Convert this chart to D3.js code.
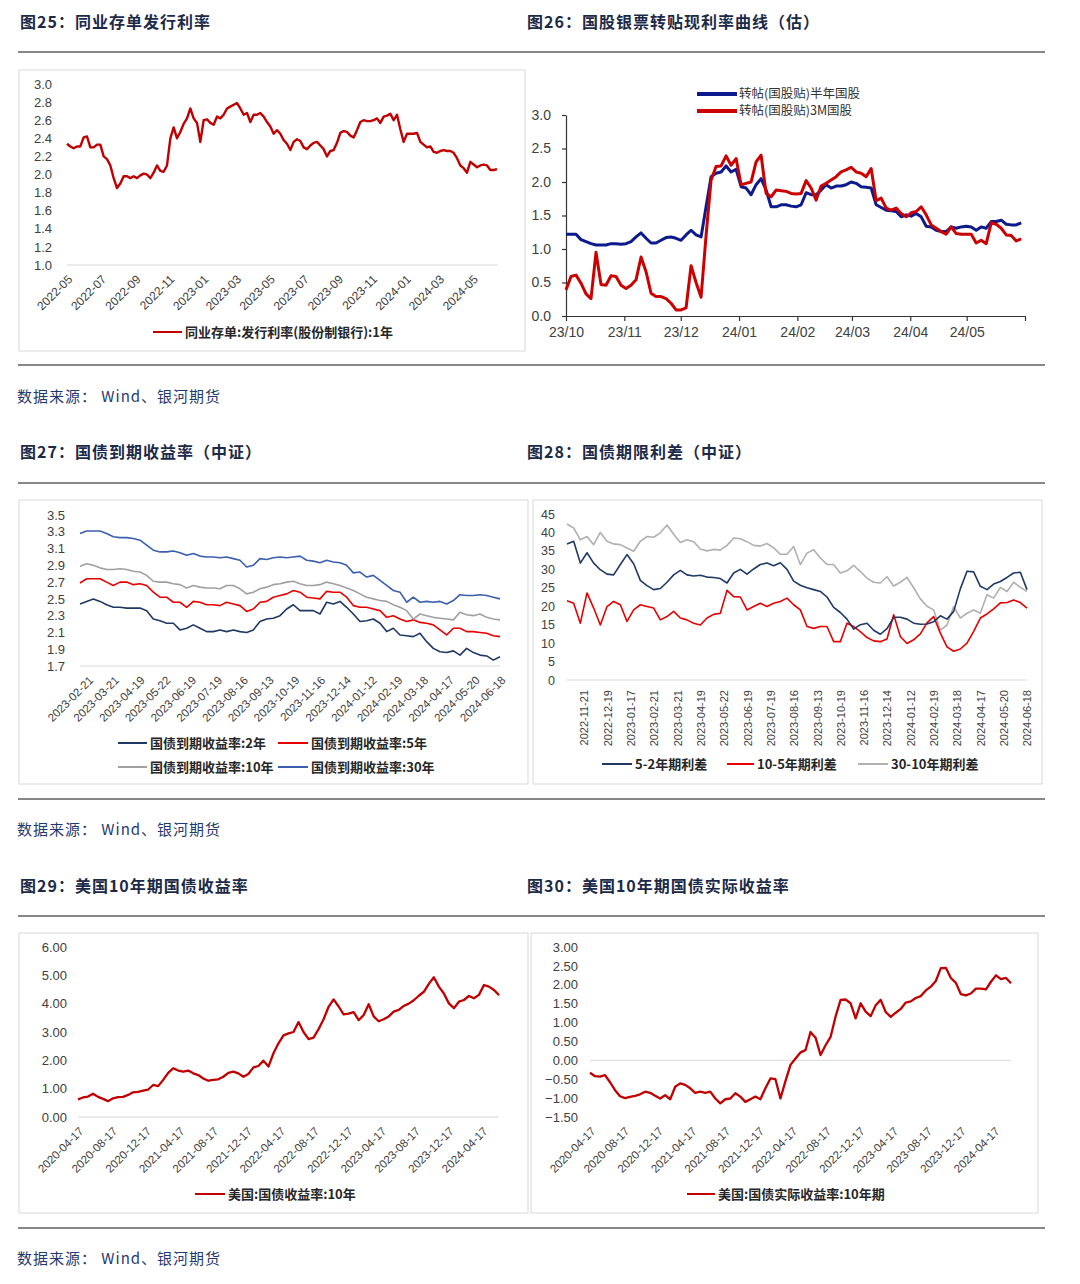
<!DOCTYPE html>
<html>
<head>
<meta charset="utf-8">
<script src="https://cdn.jsdelivr.net/npm/d3@7"></script>
<style>
body { margin: 0; background: #fff; }
text { font-family: "Liberation Sans", Arial, sans-serif; }
.cjk { font-family: "Noto Sans CJK SC", sans-serif; }
</style>
</head>
<body>
<svg id="page" width="1080" height="1284"></svg>
<script>
// ---- page texts ----
var pageTitles = ["图25：同业存单发行利率", "图26：国股银票转贴现利率曲线（估）",
                  "图27：国债到期收益率（中证）", "图28：国债期限利差（中证）",
                  "图29：美国10年期国债收益率", "图30：美国10年期国债实际收益率"];
var sourceText = "数据来源： Wind、银河期货";

// ---- 图25 ----
var c25Span = ["2022-05-05", "2024-06-18"];
var c25Ticks = ["2022-05","2022-07","2022-09","2022-11","2023-01","2023-03","2023-05","2023-07","2023-09","2023-11","2024-01","2024-03","2024-05"];
var c25YTicks = [1.0,1.2,1.4,1.6,1.8,2.0,2.2,2.4,2.6,2.8,3.0];
var c25Names = ["同业存单:发行利率(股份制银行):1年"];
var c25Rate = [2.34,2.31,2.29,2.31,2.31,2.41,2.42,2.30,2.30,2.33,
  2.33,2.20,2.17,2.10,1.96,1.85,1.90,1.98,1.98,1.96,
  1.98,1.96,1.99,2.01,2.00,1.96,2.02,2.10,2.04,2.03,
  2.10,2.40,2.52,2.40,2.47,2.56,2.62,2.73,2.62,2.57,
  2.36,2.60,2.61,2.57,2.55,2.64,2.62,2.66,2.73,2.75,
  2.77,2.79,2.73,2.66,2.68,2.58,2.66,2.66,2.68,2.64,
  2.58,2.53,2.45,2.49,2.45,2.38,2.34,2.27,2.36,2.39,
  2.37,2.30,2.28,2.32,2.35,2.36,2.32,2.28,2.20,2.26,
  2.27,2.35,2.46,2.48,2.47,2.43,2.41,2.49,2.58,2.60,
  2.59,2.59,2.60,2.62,2.57,2.64,2.65,2.67,2.60,2.66,
  2.50,2.36,2.45,2.45,2.45,2.46,2.36,2.33,2.30,2.31,
  2.25,2.24,2.26,2.27,2.26,2.26,2.24,2.18,2.10,2.07,
  2.02,2.14,2.11,2.08,2.10,2.11,2.10,2.05,2.05,2.06];

// ---- 图26 ----
var c26Span = ["2023-10-01", "2024-05-30"];
var c26Ticks = ["23/10","23/11","23/12","24/01","24/02","24/03","24/04","24/05","24/06"];
var c26YTicks = [0,0.5,1.0,1.5,2.0,2.5,3.0];
var c26Names = ["转帖(国股贴)半年国股", "转帖(国股贴)3M国股"];
var c26Half = [1.22,1.22,1.22,1.14,1.11,1.08,1.06,1.06,1.06,1.08,
  1.08,1.07,1.08,1.11,1.18,1.24,1.16,1.09,1.09,1.13,
  1.17,1.18,1.16,1.13,1.21,1.28,1.21,1.18,1.63,2.08,
  2.13,2.15,2.24,2.15,2.19,1.93,1.91,1.81,1.96,2.05,
  1.88,1.63,1.63,1.66,1.66,1.64,1.63,1.66,1.84,1.81,
  1.81,1.88,1.96,1.91,1.94,1.94,1.96,2.00,1.98,1.93,
  1.92,1.91,1.66,1.62,1.58,1.57,1.56,1.48,1.51,1.49,
  1.53,1.48,1.34,1.33,1.28,1.26,1.26,1.33,1.31,1.33,
  1.34,1.33,1.28,1.33,1.31,1.41,1.41,1.43,1.37,1.36,
  1.36,1.39];
var c26ThreeM = [0.39,0.59,0.61,0.49,0.33,0.26,0.95,0.47,0.46,0.60,
  0.59,0.46,0.41,0.46,0.54,0.88,0.66,0.34,0.29,0.29,
  0.26,0.19,0.09,0.09,0.12,0.75,0.50,0.28,1.20,2.03,
  2.23,2.24,2.39,2.25,2.35,1.96,1.98,2.00,2.30,2.40,
  1.83,1.78,1.88,1.87,1.86,1.83,1.82,1.83,2.02,1.91,
  1.73,1.94,1.98,2.03,2.08,2.15,2.18,2.22,2.15,2.13,
  2.08,2.20,1.72,1.76,1.61,1.58,1.61,1.53,1.48,1.54,
  1.56,1.63,1.51,1.36,1.31,1.26,1.22,1.33,1.23,1.22,
  1.22,1.22,1.09,1.13,1.08,1.39,1.37,1.31,1.21,1.20,
  1.12,1.15];

// ---- 图27 ----
var c27Ticks = ["2023-02-21","2023-03-21","2023-04-19","2023-05-22","2023-06-19","2023-07-19","2023-08-16","2023-09-13","2023-10-19","2023-11-16","2023-12-14","2024-01-12","2024-02-19","2024-03-18","2024-04-17","2024-05-20","2024-06-18"];
var c27YTicks = [1.7,1.9,2.1,2.3,2.5,2.7,2.9,3.1,3.3,3.5];
var c27Names = ["国债到期收益率:2年", "国债到期收益率:5年", "国债到期收益率:10年", "国债到期收益率:30年"];
var c27Y2 = [2.44,2.47,2.50,2.47,2.43,2.40,2.40,2.39,2.39,2.39,
  2.36,2.26,2.24,2.21,2.21,2.13,2.15,2.19,2.15,2.11,
  2.11,2.13,2.11,2.13,2.11,2.10,2.13,2.23,2.26,2.27,
  2.30,2.38,2.43,2.36,2.36,2.36,2.32,2.46,2.44,2.47,
  2.40,2.32,2.23,2.24,2.26,2.21,2.11,2.15,2.07,2.06,
  2.05,2.09,1.99,1.91,1.87,1.86,1.88,1.83,1.91,1.86,
  1.83,1.82,1.77,1.81];
var c27Y5 = [2.69,2.74,2.74,2.74,2.70,2.66,2.70,2.70,2.67,2.68,
  2.66,2.58,2.52,2.52,2.46,2.46,2.40,2.47,2.46,2.43,
  2.43,2.42,2.46,2.44,2.42,2.35,2.38,2.46,2.47,2.52,
  2.54,2.56,2.60,2.58,2.52,2.51,2.50,2.59,2.58,2.58,
  2.52,2.42,2.40,2.40,2.38,2.36,2.28,2.30,2.26,2.23,
  2.25,2.22,2.21,2.19,2.13,2.07,2.15,2.15,2.11,2.11,
  2.10,2.09,2.06,2.05];
var c27Y10 = [2.89,2.92,2.90,2.87,2.85,2.85,2.86,2.85,2.83,2.82,
  2.78,2.71,2.70,2.70,2.68,2.67,2.63,2.66,2.64,2.63,
  2.63,2.62,2.66,2.66,2.62,2.56,2.58,2.62,2.64,2.67,
  2.68,2.70,2.71,2.68,2.66,2.66,2.67,2.70,2.68,2.66,
  2.63,2.60,2.56,2.52,2.50,2.48,2.47,2.43,2.40,2.36,
  2.26,2.32,2.30,2.28,2.27,2.26,2.25,2.34,2.31,2.30,
  2.32,2.28,2.26,2.25];
var c27Y30 = [3.28,3.31,3.31,3.31,3.28,3.24,3.23,3.23,3.22,3.20,
  3.14,3.08,3.06,3.06,3.07,3.05,3.02,3.04,3.01,3.00,
  3.00,2.99,3.00,2.98,2.96,2.88,2.90,2.98,2.97,2.99,
  3.00,2.99,3.00,3.01,2.96,2.95,2.93,2.96,2.94,2.93,
  2.90,2.81,2.82,2.76,2.78,2.72,2.66,2.60,2.58,2.46,
  2.52,2.46,2.47,2.46,2.47,2.44,2.48,2.55,2.54,2.54,
  2.55,2.54,2.52,2.50];

// ---- 图28 ----
var c28Ticks = ["2022-11-21","2022-12-19","2023-01-17","2023-02-21","2023-03-21","2023-04-19","2023-05-22","2023-06-19","2023-07-19","2023-08-16","2023-09-13","2023-10-19","2023-11-16","2023-12-14","2024-01-12","2024-02-19","2024-03-18","2024-04-17","2024-05-20","2024-06-18"];
var c28YTicks = [0,5,10,15,20,25,30,35,40,45];
var c28Names = ["5-2年期利差", "10-5年期利差", "30-10年期利差"];
var c28S52 = [36.9,37.6,31.7,34.5,31.7,29.9,28.7,28.5,31.3,34.0,
  31.5,27.0,25.6,24.5,24.8,26.5,28.5,29.7,28.5,28.2,
  28.4,27.9,27.8,27.5,26.3,29.0,30.0,28.7,30.1,31.3,
  31.7,31.0,31.8,30.0,26.8,25.7,25.0,24.5,24.0,22.5,
  19.7,18.3,16.5,13.8,15.0,15.4,13.5,12.4,13.9,17.0,
  17.0,16.5,15.4,15.1,15.2,15.8,17.4,16.5,18.6,24.7,
  29.5,29.3,25.4,24.5,26.0,26.7,27.8,29.0,29.2,24.5];
var c28S105 = [21.5,20.8,15.4,23.6,19.5,14.9,19.9,21.3,20.4,15.9,
  19.0,20.4,19.9,19.5,16.3,17.2,18.6,16.8,16.3,15.4,
  14.9,16.8,17.8,18.1,24.3,22.6,22.5,19.0,19.9,20.8,
  19.9,20.8,21.3,22.2,20.4,19.0,14.5,14.0,14.5,14.5,
  10.4,10.4,15.4,14.5,13.1,11.5,10.6,10.4,11.1,17.7,
  11.8,9.9,10.9,12.5,15.5,17.2,12.7,9.0,7.8,8.4,
  10.0,13.2,16.8,17.9,19.3,20.9,21.0,21.7,21.0,19.5];
var c28S3010 = [42.3,41.2,38.0,38.9,36.7,40.0,37.6,36.9,36.7,35.8,
  34.9,37.6,38.9,38.7,39.9,42.0,39.5,37.3,38.0,37.5,
  35.5,35.0,35.4,35.2,36.5,38.5,38.3,37.5,36.5,36.3,
  37.0,35.8,34.1,34.1,36.2,31.3,34.4,35.3,33.1,31.3,
  31.3,29.0,29.6,31.1,29.4,27.6,26.5,26.3,28.0,25.5,
  26.5,27.8,25.0,22.0,20.0,19.0,13.5,14.9,19.9,16.8,
  18.1,19.0,18.1,23.1,22.2,25.1,24.0,26.5,25.1,24.0];

// ---- 图29 / 图30 ----
var usSpan = ["2020-04-17", "2024-06-18"];
var usTicks = ["2020-04-17","2020-08-17","2020-12-17","2021-04-17","2021-08-17","2021-12-17","2022-04-17","2022-08-17","2022-12-17","2023-04-17","2023-08-17","2023-12-17","2024-04-17"];
var c29YTicks = [0,1,2,3,4,5,6];
var c29Names = ["美国:国债收益率:10年"];
var c29Yield = [0.62,0.69,0.72,0.82,0.71,0.64,0.56,0.66,0.70,0.71,
  0.78,0.87,0.89,0.93,0.97,1.13,1.09,1.31,1.56,1.72,
  1.64,1.60,1.64,1.54,1.48,1.36,1.28,1.31,1.33,1.42,
  1.56,1.60,1.54,1.42,1.52,1.75,1.80,1.99,1.78,2.25,
  2.60,2.88,2.95,3.00,3.35,3.00,2.75,2.80,3.10,3.45,
  3.89,4.15,3.90,3.62,3.65,3.70,3.42,3.60,3.98,3.55,
  3.38,3.45,3.55,3.72,3.78,3.92,4.00,4.12,4.28,4.42,
  4.70,4.93,4.60,4.36,4.01,3.84,4.07,4.13,4.27,4.19,
  4.31,4.66,4.60,4.48,4.30];
var c30YTicks = [-1.5,-1.0,-0.5,0,0.5,1.0,1.5,2.0,2.5,3.0];
var c30Names = ["美国:国债实际收益率:10年期"];
var c30Real = [-0.33,-0.42,-0.43,-0.39,-0.58,-0.79,-0.95,-1.00,-0.97,-0.94,
  -0.90,-0.83,-0.86,-0.94,-1.01,-0.92,-1.03,-0.70,-0.61,-0.65,
  -0.74,-0.86,-0.83,-0.86,-0.83,-1.01,-1.14,-1.03,-1.01,-0.87,
  -0.96,-1.10,-1.03,-0.96,-1.03,-0.74,-0.48,-0.50,-1.01,-0.55,
  -0.12,0.05,0.21,0.27,0.75,0.60,0.14,0.40,0.62,1.16,
  1.60,1.61,1.51,1.11,1.51,1.29,1.17,1.46,1.60,1.28,
  1.15,1.26,1.36,1.53,1.56,1.65,1.70,1.85,1.95,2.10,
  2.44,2.45,2.18,2.05,1.75,1.72,1.77,1.90,1.90,1.88,
  2.08,2.25,2.15,2.18,2.04];

var parseDay = d3.timeParse("%Y-%m-%d");
var parseMon = d3.timeParse("%Y-%m");
var parseYM = d3.timeParse("%y/%m");

var svg = d3.select("#page");

// evenly spaced samples between two dates
function overDates(vals, span) {
  var t0 = +parseDay(span[0]), t1 = +parseDay(span[1]);
  return vals.map(function(v, i) { return {x: new Date(t0 + (t1 - t0) * i / (vals.length - 1)), v: v}; });
}
// evenly spaced samples over a category index range
function overIndex(vals, a, b) {
  return vals.map(function(v, i) { return {x: a + (b - a) * i / (vals.length - 1), v: v}; });
}
function drawLine(pts, x, y, color, w) {
  svg.append("path").datum(pts)
    .attr("fill", "none").attr("stroke", color).attr("stroke-width", w)
    .attr("stroke-linejoin", "round")
    .attr("d", d3.line().x(function(d) { return x(d.x); }).y(function(d) { return y(d.v); }));
}
function leftLabels(y, vals, fmt, xPos, pad, size) {
  var a = svg.append("g").attr("transform", "translate(" + xPos + ",0)")
    .call(d3.axisLeft(y).tickValues(vals).tickFormat(d3.format(fmt)).tickSize(0).tickPadding(pad));
  a.select(".domain").remove();
  a.selectAll("text").style("font-size", size + "px").attr("fill", "#404040")
    .style("font-family", "'Liberation Sans', Arial, sans-serif");
}
function rotLabels(x, vals, fmt, y0, angle, size, dx, dy) {
  var a = svg.append("g").attr("transform", "translate(0," + y0 + ")")
    .call(d3.axisBottom(x).tickValues(vals).tickFormat(fmt).tickSize(0));
  a.select(".domain").remove();
  a.selectAll("text").attr("x", 0).attr("y", 0).attr("dy", "0.35em")
    .attr("text-anchor", "end").attr("fill", "#404040")
    .style("font-size", size + "px").style("font-family", "'Liberation Sans', Arial, sans-serif")
    .attr("transform", "translate(" + dx + "," + dy + ") rotate(" + angle + ")");
}
function hline(x1, x2, yy, color, w) {
  svg.append("line").attr("x1", x1).attr("x2", x2).attr("y1", yy).attr("y2", yy)
    .attr("stroke", color).attr("stroke-width", w);
}
function box(x, y, w, h) {
  svg.append("rect").attr("x", x).attr("y", y).attr("width", w).attr("height", h)
    .attr("fill", "none").attr("stroke", "#d9d9d9").attr("stroke-width", 1);
}
function legendItem(x, y, len, color, w, label, size, weight) {
  hline(x, x + len, y, color, w);
  svg.append("text").attr("class", "cjk").attr("x", x + len + 3).attr("y", y).attr("dy", "0.35em")
    .style("font-size", size + "px").style("font-weight", weight).attr("fill", "#262626").text(label);
}

// ---- page frame: titles, rules, sources ----
var titlePos = [[20, 22], [527, 22], [20, 452], [527, 452], [20, 886], [527, 886]];
pageTitles.forEach(function(t, i) {
  svg.append("text").attr("class", "cjk").attr("x", titlePos[i][0]).attr("y", titlePos[i][1]).attr("dy", "0.35em")
    .style("font-size", "16px").style("font-weight", 700).style("letter-spacing", "1px")
    .attr("fill", "#1c2a48").text(t);
});
[52, 365, 483, 799, 916, 1228].forEach(function(yy) { hline(18, 1045, yy, "#5f5f5f", 1.5); });
[397, 830, 1259].forEach(function(yy) {
  svg.append("text").attr("class", "cjk").attr("x", 17).attr("y", yy).attr("dy", "0.35em")
    .style("font-size", "15px").style("letter-spacing", "1px").attr("fill", "#1f3a6e").text(sourceText);
});

// ---- 图25 ----
box(19, 70, 506, 281);
var x25 = d3.scaleTime().domain(c25Span.map(parseDay)).range([67, 497]);
var y25 = d3.scaleLinear().domain([1.0, 3.0]).range([265, 84]);
hline(67, 498, y25(1.0), "#d9d9d9", 1);
leftLabels(y25, c25YTicks, ".1f", 67, 15, 13);
rotLabels(x25, c25Ticks.map(parseMon), d3.timeFormat("%Y-%m"), 265, -45, 12, 5, 12);
drawLine(overDates(c25Rate, c25Span), x25, y25, "#c00000", 2.4);
legendItem(153, 332, 29, "#c00000", 2, c25Names[0], 13, 700);

// ---- 图26 ----
var x26 = d3.scaleTime().domain([parseYM("23/10"), parseYM("24/06")]).range([566, 1025]);
var y26 = d3.scaleLinear().domain([0, 3]).range([316, 115]);
var ay26 = svg.append("g").attr("transform", "translate(566,0)")
  .call(d3.axisLeft(y26).tickValues(c26YTicks).tickFormat(d3.format(".1f")).tickSize(4).tickSizeOuter(0).tickPadding(11));
var ax26 = svg.append("g").attr("transform", "translate(0,316)")
  .call(d3.axisBottom(x26).tickValues(c26Ticks.map(parseYM))
    .tickFormat(function(d, i) { return i < c26Ticks.length - 1 ? c26Ticks[i] : ""; })
    .tickSize(5).tickSizeOuter(0).tickPadding(6));
[ay26, ax26].forEach(function(a) {
  a.selectAll("path,line").attr("stroke", "#333").attr("stroke-width", 1.2);
  a.selectAll("text").attr("fill", "#404040").style("font-size", "14px")
    .style("font-family", "'Liberation Sans', Arial, sans-serif");
});
drawLine(overDates(c26Half, c26Span), x26, y26, "#0d1a8c", 3);
drawLine(overDates(c26ThreeM, c26Span), x26, y26, "#cc0000", 3);
// two stacked legend rows, kept just clear of each other
[["#0d1a8c", 94], ["#cc0000", 111]].forEach(function(s, i) {
  hline(697, 737, s[1], s[0], 4);
  svg.append("text").attr("class", "cjk").attr("x", 739).attr("y", s[1]).attr("dy", "0.35em")
    .style("font-size", "12.5px").attr("fill", "#333").text(c26Names[i]);
});

// ---- 图27 ----
box(19, 500, 509, 284);
var x27 = d3.scaleLinear().domain([-0.3, c27Ticks.length - 1]).range([80, 500]);
var y27 = d3.scaleLinear().domain([1.7, 3.5]).range([666, 515]);
hline(80, 500, y27(1.7), "#d9d9d9", 1);
leftLabels(y27, c27YTicks, ".1f", 80, 15, 13);
rotLabels(x27, d3.range(c27Ticks.length), function(i) { return c27Ticks[i]; }, 666, -45, 11.5, 3, 12);
var c27Colors = ["#1f3864", "#e60000", "#a0a0a0", "#3b5fae"];
[c27Y2, c27Y5, c27Y10, c27Y30].forEach(function(s, i) {
  drawLine(overIndex(s, -0.3, c27Ticks.length - 1), x27, y27, c27Colors[i], 1.6);
});
legendItem(118, 743, 29, c27Colors[0], 2, c27Names[0], 13, 700);
legendItem(278, 743, 30, c27Colors[1], 2, c27Names[1], 13, 700);
legendItem(118, 767, 29, c27Colors[2], 2, c27Names[2], 13, 700);
legendItem(278, 767, 30, c27Colors[3], 2, c27Names[3], 13, 700);

// ---- 图28 ----
box(533, 500, 509, 284);
var x28 = d3.scaleLinear().domain([-0.73, c28Ticks.length - 1]).range([567, 1027]);
var y28 = d3.scaleLinear().domain([0, 45]).range([680, 514]);
hline(567, 1027, y28(0), "#d9d9d9", 1);
leftLabels(y28, c28YTicks, "d", 567, 12, 12.5);
rotLabels(x28, d3.range(c28Ticks.length), function(i) { return c28Ticks[i]; }, 680, -90, 11, 0, 10);
var c28Colors = ["#1f3864", "#e60000", "#b0b0b0"];
[c28S3010, c28S105, c28S52].forEach(function(s, i) {
  drawLine(overIndex(s, -0.73, c28Ticks.length - 1), x28, y28, c28Colors[2 - i], 1.6);
});
legendItem(602, 764, 30, c28Colors[0], 2, c28Names[0], 13, 700);
legendItem(727, 764, 27, c28Colors[1], 2, c28Names[1], 13, 700);
legendItem(858, 764, 30, c28Colors[2], 2, c28Names[2], 13, 700);

// ---- 图29 ----
box(19, 933, 509, 280);
var x29 = d3.scaleTime().domain(usSpan.map(parseDay)).range([78, 499]);
var y29 = d3.scaleLinear().domain([0, 6]).range([1117, 947]);
hline(78, 499, y29(0), "#d9d9d9", 1);
leftLabels(y29, c29YTicks, ".2f", 78, 11, 13);
rotLabels(x29, usTicks.map(parseDay), d3.timeFormat("%Y-%m-%d"), 1117, -45, 11.5, 3, 12);
drawLine(overDates(c29Yield, usSpan), x29, y29, "#c00000", 2.3);
legendItem(195, 1194, 30, "#c00000", 2, c29Names[0], 13, 700);

// ---- 图30 ----
box(531, 933, 507, 280);
var x30 = d3.scaleTime().domain(usSpan.map(parseDay)).range([590, 1011]);
var y30 = d3.scaleLinear().domain([-1.5, 3]).range([1117, 947]);
hline(590, 1011, y30(0), "#d9d9d9", 1);
leftLabels(y30, c30YTicks, ".2f", 590, 12, 13);
rotLabels(x30, usTicks.map(parseDay), d3.timeFormat("%Y-%m-%d"), 1117, -45, 11.5, 3, 12);
drawLine(overDates(c30Real, usSpan), x30, y30, "#c00000", 2.3);
legendItem(687, 1194, 28, "#c00000", 2, c30Names[0], 13, 700);
</script>
</body>
</html>
